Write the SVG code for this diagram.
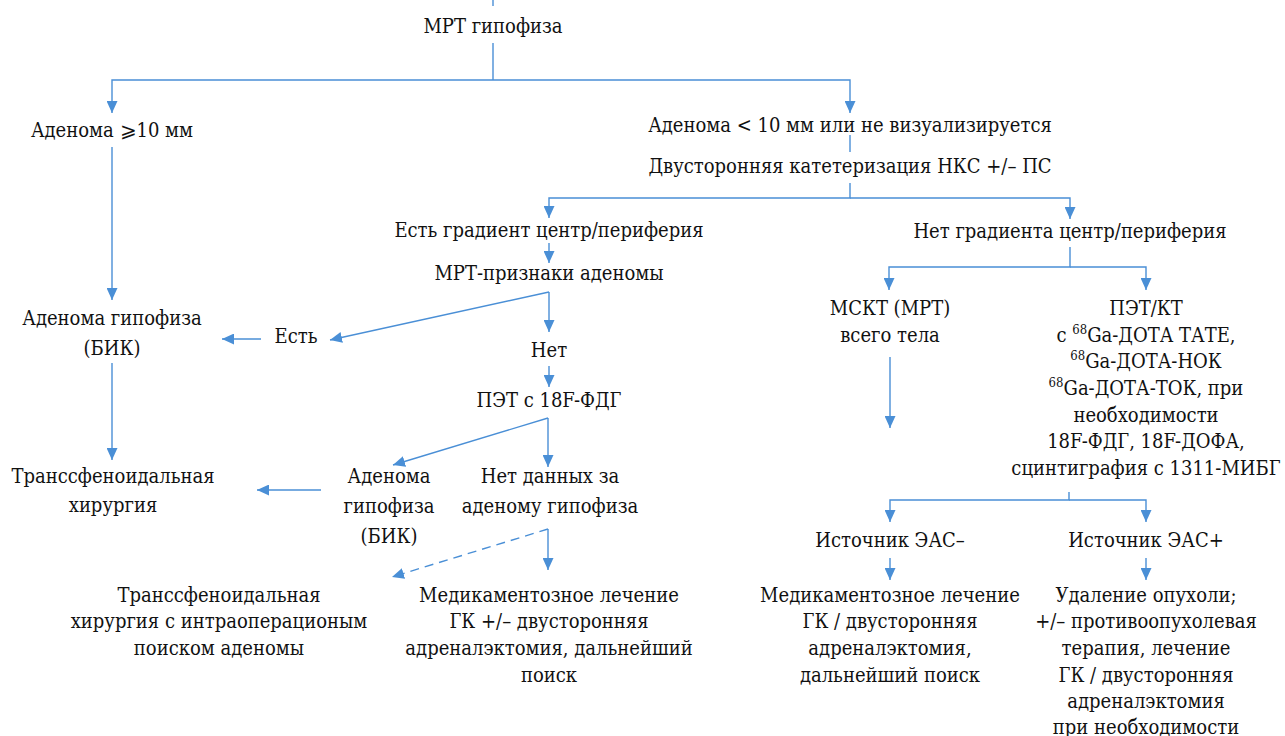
<svg xmlns="http://www.w3.org/2000/svg" width="1285" height="736" viewBox="0 0 1285 736">
<defs>
<marker id="ah" markerUnits="userSpaceOnUse" markerWidth="13" markerHeight="11" refX="12" refY="5.5" orient="auto">
<path d="M0,0 L12,5.5 L0,11 z" fill="#4a8fd6"/>
</marker>
<style>
text{font-family:'DejaVu Serif Condensed','DejaVu Serif',serif;font-stretch:condensed;font-size:20px;fill:#111;text-anchor:middle}
.c{fill:none;stroke:#4a8fd6;stroke-width:1.4}
.a{marker-end:url(#ah)}
.d{stroke-dasharray:9 6}
</style>
</defs>
<rect width="1285" height="736" fill="#fff"/>
<g id="connectors">
<path class="c" d="M493,0 V6"/>
<path class="c" d="M493,43 V80"/>
<path class="c a" d="M493,80 H112 V113"/>
<path class="c a" d="M493,80 H850 V113"/>
<path class="c" d="M850,135 V152"/>
<path class="c a" d="M850,183 V198 H549 V218"/>
<path class="c a" d="M850,198 H1070 V219"/>
<path class="c a" d="M549,243 V263"/>
<path class="c a" d="M549,292 L330,340"/>
<path class="c a" d="M549,292 V332"/>
<path class="c a" d="M549,366 V387"/>
<path class="c a" d="M548,418 L393,465"/>
<path class="c a" d="M548,418 V467"/>
<path class="c a d" d="M548,529 L392,577"/>
<path class="c a" d="M548,529 V570"/>
<path class="c a" d="M112,147 V300"/>
<path class="c a" d="M112,363 V460"/>
<path class="c a" d="M261,339 H222"/>
<path class="c a" d="M321,490 H257"/>
<path class="c a" d="M1070,247 V267 H889 V290"/>
<path class="c a" d="M1070,267 H1146 V290"/>
<path class="c a" d="M890,357 V428"/>
<path class="c a" d="M1069,492 V500 H890 V522"/>
<path class="c a" d="M1069,500 H1146 V522"/>
<path class="c a" d="M890,558 V580"/>
<path class="c a" d="M1146,558 V580"/>
</g>
<g id="n1"><text x="493" y="33">МРТ гипофиза</text></g>
<g id="n2"><text x="112" y="137">Аденома ⩾10 мм</text></g>
<g id="n3"><text x="850" y="132">Аденома &lt; 10 мм или не визуализируется</text></g>
<g id="n4"><text x="850" y="173">Двусторонняя катетеризация НКС +/– ПС</text></g>
<g id="n5"><text x="549" y="237">Есть градиент центр/периферия</text></g>
<g id="n6"><text x="1070" y="238">Нет градиента центр/периферия</text></g>
<g id="n7"><text x="549" y="280">МРТ-признаки аденомы</text></g>
<g id="n8"><text x="112" y="325">Аденома гипофиза</text><text x="112" y="355">(БИК)</text></g>
<g id="n9"><text x="296" y="343">Есть</text></g>
<g id="n10"><text x="549" y="357">Нет</text></g>
<g id="n11"><text x="549" y="407">ПЭТ с 18F-ФДГ</text></g>
<g id="n12"><text x="113" y="483">Транссфеноидальная</text><text x="113" y="512">хирургия</text></g>
<g id="n13"><text x="389" y="483">Аденома</text><text x="389" y="513">гипофиза</text><text x="389" y="543">(БИК)</text></g>
<g id="n14"><text x="550" y="483">Нет данных за</text><text x="550" y="513">аденому гипофиза</text></g>
<g id="n15"><text x="219" y="602">Транссфеноидальная</text><text x="219" y="628">хирургия с интраоперационым</text><text x="219" y="655">поиском аденомы</text></g>
<g id="n16"><text x="549" y="602">Медикаментозное лечение</text><text x="549" y="628">ГК +/– двусторонняя</text><text x="549" y="655">адреналэктомия, дальнейший</text><text x="549" y="682">поиск</text></g>
<g id="n17"><text x="890" y="315">МСКТ (МРТ)</text><text x="890" y="342">всего тела</text></g>
<g id="n18">
<text x="1146" y="315">ПЭТ/КТ</text>
<text x="1146" y="342">с <tspan font-size="13" dy="-8">68</tspan><tspan dy="8">Ga-ДОТА ТАТЕ,</tspan></text>
<text x="1146" y="368"><tspan font-size="13" dy="-8">68</tspan><tspan dy="8">Ga-ДОТА-НОК</tspan></text>
<text x="1146" y="395"><tspan font-size="13" dy="-8">68</tspan><tspan dy="8">Ga-ДОТА-ТОК, при</tspan></text>
<text x="1146" y="422">необходимости</text>
<text x="1146" y="448">18F-ФДГ, 18F-ДОФА,</text>
<text x="1146" y="475">сцинтиграфия с 1311-МИБГ</text>
</g>
<g id="n19"><text x="890" y="547">Источник ЭАС–</text></g>
<g id="n20"><text x="1146" y="547">Источник ЭАС+</text></g>
<g id="n21"><text x="890" y="602">Медикаментозное лечение</text><text x="890" y="628">ГК / двусторонняя</text><text x="890" y="655">адреналэктомия,</text><text x="890" y="682">дальнейший поиск</text></g>
<g id="n22"><text x="1146" y="602">Удаление опухоли;</text><text x="1146" y="628">+/– противоопухолевая</text><text x="1146" y="655">терапия, лечение</text><text x="1146" y="682">ГК / двусторонняя</text><text x="1146" y="708">адреналэктомия</text><text x="1146" y="734">при необходимости</text></g>
</svg>
